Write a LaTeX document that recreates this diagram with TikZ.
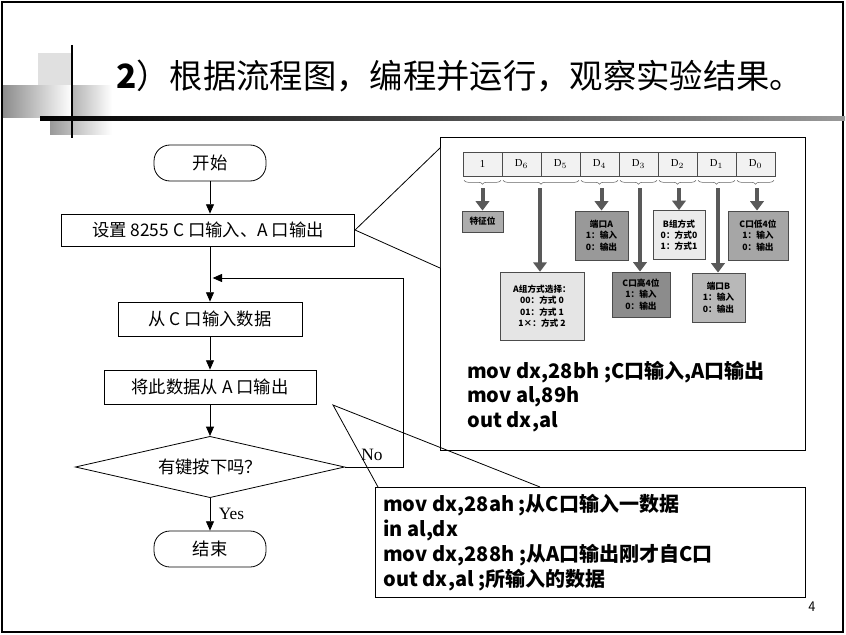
\documentclass[tikz,border=0pt]{standalone}
\usepackage{fontspec}
\setmainfont{Liberation Serif}
\newfontfamily\cjk{Noto Sans CJK SC}
\usetikzlibrary{arrows.meta,shapes.geometric,decorations.pathreplacing}
\begin{document}
\begin{tikzpicture}[x=0.75pt,y=-0.75pt,
  fbox/.style={draw,line width=0.6pt,font=\cjk\fontsize{13}{15}\selectfont,inner sep=0pt},
  flow/.style={-{Triangle[length=7pt,width=6pt]},line width=0.6pt},
  sub/.style={draw=black!70,line width=0.4pt,font=\cjk\bfseries\fontsize{6.5}{8.5}\selectfont,align=center,inner sep=0pt},
  garr/.style={-{Triangle[length=7pt,width=10pt]},line width=3pt,draw=black!65},
  code/.style={font=\cjk\bfseries\fontsize{15}{17}\selectfont,anchor=west,inner sep=0pt},
  cell/.style={draw=black!70,fill=black!5,minimum width=29.25pt,minimum height=18pt,inner sep=0pt,font=\fontsize{8}{9}\selectfont}]
\useasboundingbox (0,0) rectangle (846,635);
\fill[white] (0,0) rectangle (846,635);
\draw[line width=1.5pt] (2,2) rectangle (843,632);
% title decoration
\fill[black!12] (38,53) rectangle (72,87);
\shade[left color=black!45,right color=white] (3,86) rectangle (72,117);
\shade[left color=black!30,right color=white] (72,86) rectangle (112,117);
\shade[left color=black!40,right color=white] (50,119) rectangle (112,134);
\draw[line width=1.2pt] (72,45) -- (72,138);
\shade[left color=black,right color=black!40] (40,116.5) rectangle (845,120);
\node[anchor=west,font=\cjk\fontsize{25}{29}\selectfont,inner sep=0pt] (title) at (116,76) {\textbf{2}）根据流程图，编程并运行，观察实验结果。};
% flowchart
\node[fbox,rounded corners=12pt,minimum width=84pt,minimum height=27pt] (start) at (210,163) {开始};
\node[fbox,minimum width=220pt,minimum height=24pt] (set) at (208,230) {设置 8255 C 口输入、A 口输出};
\coordinate (m) at (210,278);
\node[fbox,minimum width=138pt,minimum height=25.5pt] (in) at (210,319) {从 C 口输入数据};
\node[fbox,minimum width=159pt,minimum height=25.5pt] (out) at (210,387) {将此数据从 A 口输出};
\node[fbox,diamond,aspect=4.3,minimum width=202pt,minimum height=46pt] (dec) at (210,467) {有键按下吗？};
\node[fbox,rounded corners=12pt,minimum width=84pt,minimum height=27pt] (end) at (210,549) {结束};
\draw[flow] (start) -- (set.north -| start);
\draw[line width=0.6pt] (set.south -| m) -- (m);
\draw[flow] (m) -- (in);
\draw[flow] (in) -- (out);
\draw[flow] (out) -- (dec);
\draw[flow] (dec) -- node[right,font=\fontsize{13}{15}\selectfont,xshift=3pt]{Yes} (end);
\coordinate (r1) at (403,467);
\coordinate (r2) at (403,278);
\draw[flow] (dec.east) -- (r1) -- (r2) -- ([xshift=2pt]m);
\node[font=\fontsize{13}{15}\selectfont] (no) at (372,455) {No};
% callout 1
\node[draw,line width=0.6pt,minimum width=273.75pt,minimum height=234.75pt,inner sep=0pt] (b1) at (622.5,293.5) {};
\coordinate (c1a) at (440,148);
\coordinate (c1b) at (440,268);
\fill[white] (set.east) -- (c1a) -- (c1b) -- cycle;
\draw[line width=0.6pt] (c1a) -- (set.east) -- (c1b);
% register
\foreach \i/\t in {0/1,1/D$_6$,2/D$_5$,3/D$_4$,4/D$_3$,5/D$_2$,6/D$_1$,7/D$_0$}
  \node[cell] (k\i) at (482.5+39*\i,164) {\t};
\foreach \i in {0,3,4,5,6,7}
  \draw[decorate,decoration={brace,mirror,amplitude=3pt},black!60] ([xshift=1pt,yshift=-3pt]k\i.south west) -- ([xshift=-1pt,yshift=-3pt]k\i.south east);
\draw[decorate,decoration={brace,mirror,amplitude=3pt},black!60] ([xshift=1pt,yshift=-3pt]k1.south west) -- ([xshift=-1pt,yshift=-3pt]k2.south east);
\node[sub,fill=black!32,minimum width=31pt,minimum height=16pt] (s0) at (482.5,221.5) {特征位};
\node[sub,fill=black!40,minimum width=40pt,minimum height=37pt] (s4) at (601.5,235.5) {端口A\\1：输入\\0：输出};
\node[sub,fill=black!8,minimum width=39pt,minimum height=37pt] (s2) at (679,235) {B组方式\\0：方式0\\1：方式1};
\node[sub,fill=black!35,minimum width=45pt,minimum height=37pt] (s7) at (758,235.5) {C口低4位\\1：输入\\0：输出};
\node[sub,fill=black!10,minimum width=63pt,minimum height=51pt] (s56) at (542,306) {A组方式选择：\\00：方式 0\\01：方式 1\\1×：方式 2};
\node[sub,fill=black!45,minimum width=43.5pt,minimum height=34pt] (s3) at (641,294.5) {C口高4位\\1：输入\\0：输出};
\node[sub,fill=black!28,minimum width=40pt,minimum height=37pt] (s1) at (718.5,297.5) {端口B\\1：输入\\0：输出};
\draw[garr] (482.5,188) -- (s0.north);
\draw[garr] (540,188) -- (s56.north -| 540,0);
\draw[garr] (601.5,188) -- (s4.north);
\draw[garr] (640,188) -- (s3.north -| 640,0);
\draw[garr] (679,188) -- (s2.north);
\draw[garr] (718,188) -- (s1.north -| 718,0);
\draw[garr] (757,188) -- (s7.north -| 757,0);
\node[code] (l1) at (467,372) {mov dx,28bh ;C口输入,A口输出};
\node[code] (l2) at (467,397) {mov al,89h};
\node[code] (l3) at (467,422) {out dx,al};
% callout 2
\node[draw,line width=0.6pt,minimum width=322pt,minimum height=83pt,inner sep=0pt] (b2) at (590.5,542.5) {};
\coordinate (c2a) at (378,487);
\coordinate (c2b) at (540,487);
\coordinate (c2t) at (333,405);
\draw[line width=0.6pt] (c2a) -- (c2t) -- (c2b);
\node[code] (m1) at (383,505) {mov dx,28ah ;从C口输入一数据};
\node[code] (m2) at (383,530) {in al,dx};
\node[code] (m3) at (383,555) {mov dx,288h ;从A口输出刚才自C口};
\node[code] (m4) at (383,580) {out dx,al ;所输入的数据};
\node[font=\fontsize{11}{13}\selectfont\sffamily] (pg) at (812,607) {4};
\end{tikzpicture}
\end{document}
